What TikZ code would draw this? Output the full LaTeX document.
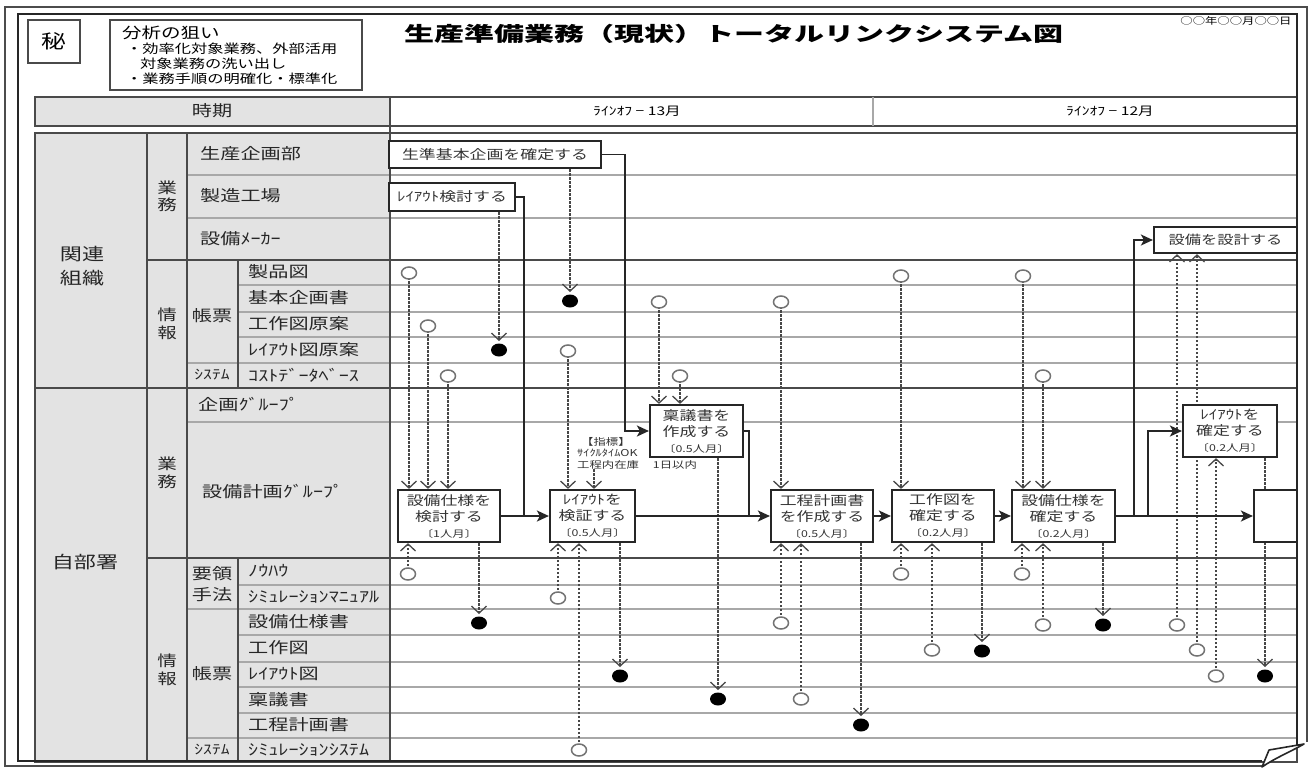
\documentclass[tikz,border=0pt]{standalone}
\usepackage{fontspec}
\setmainfont[FakeStretch=1.3]{Noto Sans CJK JP}
\newfontfamily\ttlfont[FakeStretch=1.5]{Noto Sans CJK JP}
\usetikzlibrary{arrows.meta,shapes.geometric}
\definecolor{lg}{HTML}{E3E3E3}
\definecolor{ln}{HTML}{4A4A4A}
\definecolor{gl}{HTML}{A8A8A8}
\newcommand\fsz[2]{\fontsize{#1}{#2}\selectfont}
\newcommand\smb{\fontsize{9.5}{12}\selectfont}
\begin{document}
\begin{tikzpicture}[x=1pt,y=-1pt,
  lab/.style={anchor=west,inner sep=0,font=\fsz{15.5}{18},text=black!85},
  clab/.style={inner sep=0,align=center,font=\fsz{15.5}{18},text=black!85},
  pbox/.style={draw=black!85,line width=2.2pt,fill=white,inner sep=0,align=center,font=\fsz{13}{16},text=black!80},
  flow/.style={draw=black!85,line width=1.8pt,-{Stealth[length=12pt,width=11pt,inset=3pt]}},
  fline/.style={draw=black!85,line width=1.8pt},
  dar/.style={draw=black!72,line width=1.6pt,dash pattern=on 2.5pt off 1.5pt,-{Straight Barb[length=7pt,width=15pt,line width=1.3pt]}},
  oc/.style={ellipse,draw=black!55,line width=1.5pt,minimum width=15pt,minimum height=12pt,inner sep=0,fill=white},
  fc/.style={ellipse,fill=black,minimum width=16pt,minimum height=13pt,inner sep=0},
  gline/.style={draw=gl,line width=1.6pt},
  sec/.style={draw=ln,line width=1.8pt},
]
\useasboundingbox (0,0) rectangle (1315,769);
\fill[white] (0,0) rectangle (1315,769);

% ---------- header ----------
\node[draw=ln,line width=2pt,minimum width=52pt,minimum height=43pt,inner sep=0,font=\fsz{19}{22}] (secret) at (54,41.5) {秘};
\node[draw=ln,line width=1.6pt,minimum width=252pt,minimum height=70pt,inner sep=0] (aim) at (236,55) {};
\node[anchor=west,inner sep=0,font=\fsz{15}{17}] (aim1) at (122,33) {分析の狙い};
\node[anchor=west,inner sep=0,font=\fsz{12.5}{15}] (aim2) at (126,49) {・効率化対象業務、外部活用};
\node[anchor=west,inner sep=0,font=\fsz{12.5}{15}] (aim3) at (140,63.5) {対象業務の洗い出し};
\node[anchor=west,inner sep=0,font=\fsz{12.5}{15}] (aim4) at (126,79) {・業務手順の明確化・標準化};
\node[anchor=west,inner sep=0,font=\ttlfont\bfseries\fsz{20}{24}] (title) at (404,34) {生産準備業務（現状）トータルリンクシステム図};
\node[inner sep=0,font=\fsz{9.5}{11}] (date) at (1236,21) {○○年○○月○○日};

% ---------- table fills ----------
\fill[lg] (35,133) rectangle (390,762);
\fill[lg] (35,97) rectangle (390,126);

% ---------- grid ----------
\foreach \y/\x in {175/187,218/187,285/238,312/238,337/238,363/187,422/187,585/238,609/187,635/238,662/238,687/238,713/238,738/187}
  \draw[gline] (\x,\y) -- (1297,\y);
\draw[sec] (147,260) -- (1297,260);
\draw[sec] (35,388) -- (1297,388);
\draw[sec] (147,558) -- (1297,558);
\draw[sec] (147,133) -- (147,762);
\draw[sec] (187,133) -- (187,762);
\draw[sec] (238,260) -- (238,388);
\draw[sec] (238,558) -- (238,762);
\draw[sec] (390,97) -- (390,762);
\draw[sec] (35,133) rectangle (1297,762);
\draw[sec] (35,97) rectangle (1297,126);
\draw[gline] (873,97) -- (873,126);

% header row texts
\node[clab] (jiki) at (212,111) {時期};
\node[inner sep=0,font=\fsz{12}{14}] (m13) at (637,111) {ﾗｲﾝｵﾌ − 13月};
\node[inner sep=0,font=\fsz{12}{14}] (m12) at (1110,111) {ﾗｲﾝｵﾌ − 12月};

% ---------- left labels ----------
\node[clab,font=\fsz{17}{24}] (kanren) at (82,266) {関連\\組織};
\node[clab,font=\fsz{17}{24}] (jibu) at (85,562) {自部署};
\node[clab,font=\fsz{15}{17}] (gyo1) at (167,196) {業\\務};
\node[clab,font=\fsz{15}{18}] (joh1) at (167,324) {情\\報};
\node[clab,font=\fsz{15}{18}] (gyo2) at (167,473) {業\\務};
\node[clab,font=\fsz{15}{18}] (joh2) at (167,670) {情\\報};
\node[clab] (cho1) at (212,316) {帳票};
\node[clab,font=\fsz{13.5}{16}] (sys1) at (212,375) {ｼｽﾃﾑ};
\node[clab,font=\fsz{15.5}{21}] (yoryo) at (212,584) {要領\\手法};
\node[clab] (cho2) at (212,674) {帳票};
\node[clab,font=\fsz{13.5}{16}] (sys2) at (212,750) {ｼｽﾃﾑ};
\node[lab] (r1) at (200,154) {生産企画部};
\node[lab] (r2) at (200,196) {製造工場};
\node[lab] (r3) at (200,239) {設備ﾒｰｶｰ};
\node[lab] (r4) at (248,272) {製品図};
\node[lab] (r5) at (248,298) {基本企画書};
\node[lab] (r6) at (248,324) {工作図原案};
\node[lab] (r7) at (248,350) {ﾚｲｱｳﾄ図原案};
\node[lab] (r8) at (248,375) {ｺｽﾄﾃﾞｰﾀﾍﾞｰｽ};
\node[lab] (r9) at (198,405) {企画ｸﾞﾙｰﾌﾟ};
\node[lab] (r10) at (202,492) {設備計画ｸﾞﾙｰﾌﾟ};
\node[lab] (r11) at (248,571) {ﾉｳﾊｳ};
\node[lab] (r12) at (248,597) {ｼﾐｭﾚｰｼｮﾝﾏﾆｭｱﾙ};
\node[lab] (r13) at (248,622) {設備仕様書};
\node[lab] (r14) at (248,648) {工作図};
\node[lab] (r15) at (248,674) {ﾚｲｱｳﾄ図};
\node[lab] (r16) at (248,700) {稟議書};
\node[lab] (r17) at (248,725) {工程計画書};
\node[lab] (r18) at (248,750) {ｼﾐｭﾚｰｼｮﾝｼｽﾃﾑ};

% ---------- positions ----------
\foreach \n/\x/\y in {ca/409/273,cb/428/326,cc/448/376,cd/659/302,ce/568/351,cf/680/376,cg/781/302,ch/901/276,ci/1023/276,cj/1043/376,
  ck/408/574,cl/558/598,cm/579/750,cn/781/623,co/801/699,cp/901/574,cq/932/650,cr/1022/574,cs/1043/625,ct/1177/625,cu/1197/650,cv/1216/676}
  \coordinate (\n) at (\x,\y);
\foreach \n/\x/\y in {d1/570/301,d2/499/350,d3/479/623,d4/620/676,d5/718/699,d6/861/725,d7/982/651,d8/1103/625,d9/1265/676}
  \coordinate (\n) at (\x,\y);

\path (495,154.5) node[pbox,draw=none,fill=none,minimum width=212pt,minimum height=27pt] (b0) {}
      (452,197) node[pbox,draw=none,fill=none,minimum width=126pt,minimum height=28pt] (b00) {}
      (449,516) node[pbox,draw=none,fill=none,minimum width=102pt,minimum height=52pt] (b1) {}
      (592.5,516) node[pbox,draw=none,fill=none,minimum width=85pt,minimum height=52pt] (b2) {}
      (696.5,431) node[pbox,draw=none,fill=none,minimum width=93pt,minimum height=52pt] (b3) {}
      (822,516) node[pbox,draw=none,fill=none,minimum width=102pt,minimum height=52pt] (b4) {}
      (943,516) node[pbox,draw=none,fill=none,minimum width=102pt,minimum height=52pt] (b5) {}
      (1063.5,516) node[pbox,draw=none,fill=none,minimum width=103pt,minimum height=52pt] (b6) {}
      (1230,431) node[pbox,draw=none,fill=none,minimum width=94pt,minimum height=52pt] (b7) {}
      (1225.5,240) node[pbox,draw=none,fill=none,minimum width=143pt,minimum height=26pt] (b8) {}
      (1275.5,516) node[pbox,draw=none,fill=none,minimum width=43pt,minimum height=52pt] (b9) {};

\node[anchor=north west,inner sep=0,align=left,font=\fsz{9.5}{11.5},text=black!80] (ann) at (577,437) {\hspace{4pt}【指標】\\ｻｲｸﾙﾀｲﾑOK\\工程内在庫\hspace{14pt}1日以内};

% ---------- dashed arrows ----------
\draw[dar] (ca) -- (ca |- b1.north);
\draw[dar] (cb) -- (cb |- b1.north);
\draw[dar] (cc) -- (cc |- b1.north);
\draw[dar] (ce) -- (ce |- b2.north);
\draw[dar] (cd) -- (cd |- b3.north);
\draw[dar] (cf) -- (cf |- b3.north);
\draw[dar] (cg) -- (cg |- b4.north);
\draw[dar] (ch) -- (ch |- b5.north);
\draw[dar] (ci) -- (ci |- b6.north);
\draw[dar] (cj) -- (cj |- b6.north);
\coordinate (k6) at (594,0);
\draw[dar] (k6 |- ann.south) -- (k6 |- b2.north);
\draw[dar] (ck) -- (ck |- b1.south);
\draw[dar] (cl) -- (cl |- b2.south);
\draw[dar] (cm) -- (cm |- b2.south);
\draw[dar] (cn) -- (cn |- b4.south);
\draw[dar] (co) -- (co |- b4.south);
\draw[dar] (cp) -- (cp |- b5.south);
\draw[dar] (cq) -- (cq |- b5.south);
\draw[dar] (cr) -- (cr |- b6.south);
\draw[dar] (cs) -- (cs |- b6.south);
\draw[dar] (ct) -- (ct |- b8.south);
\draw[dar] (cu) -- (cu |- b8.south);
\draw[dar] (cv) -- (cv |- b7.south);
\draw[dar,shorten >=9pt] (d1 |- b0.south) -- (d1);
\draw[dar,shorten >=9pt] (d2 |- b00.south) -- (d2);
\draw[dar,shorten >=9pt] (d3 |- b1.south) -- (d3);
\draw[dar,shorten >=9pt] (d4 |- b2.south) -- (d4);
\draw[dar,shorten >=9pt] (d5 |- b3.south) -- (d5);
\draw[dar,shorten >=9pt] (d6 |- b4.south) -- (d6);
\draw[dar,shorten >=9pt] (d7 |- b5.south) -- (d7);
\draw[dar,shorten >=9pt] (d8 |- b6.south) -- (d8);
\draw[dar,shorten >=9pt] (d9 |- b7.south) -- (d9);

% ---------- solid flow ----------
\coordinate (k1) at (625,0);
\coordinate (k2) at (524,0);
\coordinate (k3) at (749,0);
\coordinate (k4) at (1134,0);
\coordinate (k5) at (1148,0);
\draw[flow] (b0.east) -- (b0.east -| k1) |- (b3.west);
\draw[fline] (b00.east) -- (b00.east -| k2) -- (k2 |- b1.east);
\draw[flow] (b1.east) -- (b2.west);
\draw[flow] (b2.east) -- (b4.west);
\draw[fline] (b3.east) -- (b3.east -| k3) -- (k3 |- b4.west);
\draw[flow] (b4.east) -- (b5.west);
\draw[flow] (b5.east) -- (b6.west);
\draw[flow] (b6.east) -- (b9.west);
\draw[flow] (k4 |- b6.east) -- (k4 |- b8.west) -- (b8.west);
\draw[flow] (k5 |- b6.east) |- (b7.west);

% ---------- boxes drawn ----------
\node[pbox,minimum width=212pt,minimum height=27pt] (B0) at (b0) {生準基本企画を確定する};
\node[pbox,minimum width=126pt,minimum height=28pt] (B00) at (b00) {ﾚｲｱｳﾄ検討する};
\node[pbox,minimum width=102pt,minimum height=52pt] (B1) at (b1) {設備仕様を\\検討する\\{\smb 〔1人月〕}};
\node[pbox,minimum width=85pt,minimum height=52pt] (B2) at (b2) {ﾚｲｱｳﾄを\\検証する\\{\smb 〔0.5人月〕}};
\node[pbox,minimum width=93pt,minimum height=52pt] (B3) at (b3) {稟議書を\\作成する\\{\smb 〔0.5人月〕}};
\node[pbox,minimum width=102pt,minimum height=52pt] (B4) at (b4) {工程計画書\\を作成する\\{\smb 〔0.5人月〕}};
\node[pbox,minimum width=102pt,minimum height=52pt] (B5) at (b5) {工作図を\\確定する\\{\smb 〔0.2人月〕}};
\node[pbox,minimum width=103pt,minimum height=52pt] (B6) at (b6) {設備仕様を\\確定する\\{\smb 〔0.2人月〕}};
\node[pbox,minimum width=94pt,minimum height=52pt] (B7) at (b7) {ﾚｲｱｳﾄを\\確定する\\{\smb 〔0.2人月〕}};
\node[pbox,minimum width=143pt,minimum height=26pt,font=\fsz{12.5}{15}] (B8) at (b8) {設備を設計する};
\node[pbox,minimum width=43pt,minimum height=52pt] (B9) at (b9) {};

% ---------- circles and dots ----------
\foreach \n in {ca,cb,cc,cd,ce,cf,cg,ch,ci,cj,ck,cl,cm,cn,co,cp,cq,cr,cs,ct,cu,cv}
  \node[oc] (O\n) at (\n) {};
\foreach \n in {d1,d2,d3,d4,d5,d6,d7,d8,d9}
  \node[fc] (F\n) at (\n) {};

% ---------- frames ----------
\draw[line width=1.2pt,black!70] (1262,766) -- (5,766) -- (5,7) -- (1307,7) -- (1307,742);
\draw[line width=2.4pt,black!85] (1262,761) -- (18,761) -- (18,14) -- (1297,14) -- (1297,745);
\filldraw[fill=white,draw=black!85,line width=1.6pt,line join=round] (1262,767) -- (1269,750) -- (1304,744) .. controls (1290,752) and (1275,758) .. cycle;
\end{tikzpicture}
\end{document}
